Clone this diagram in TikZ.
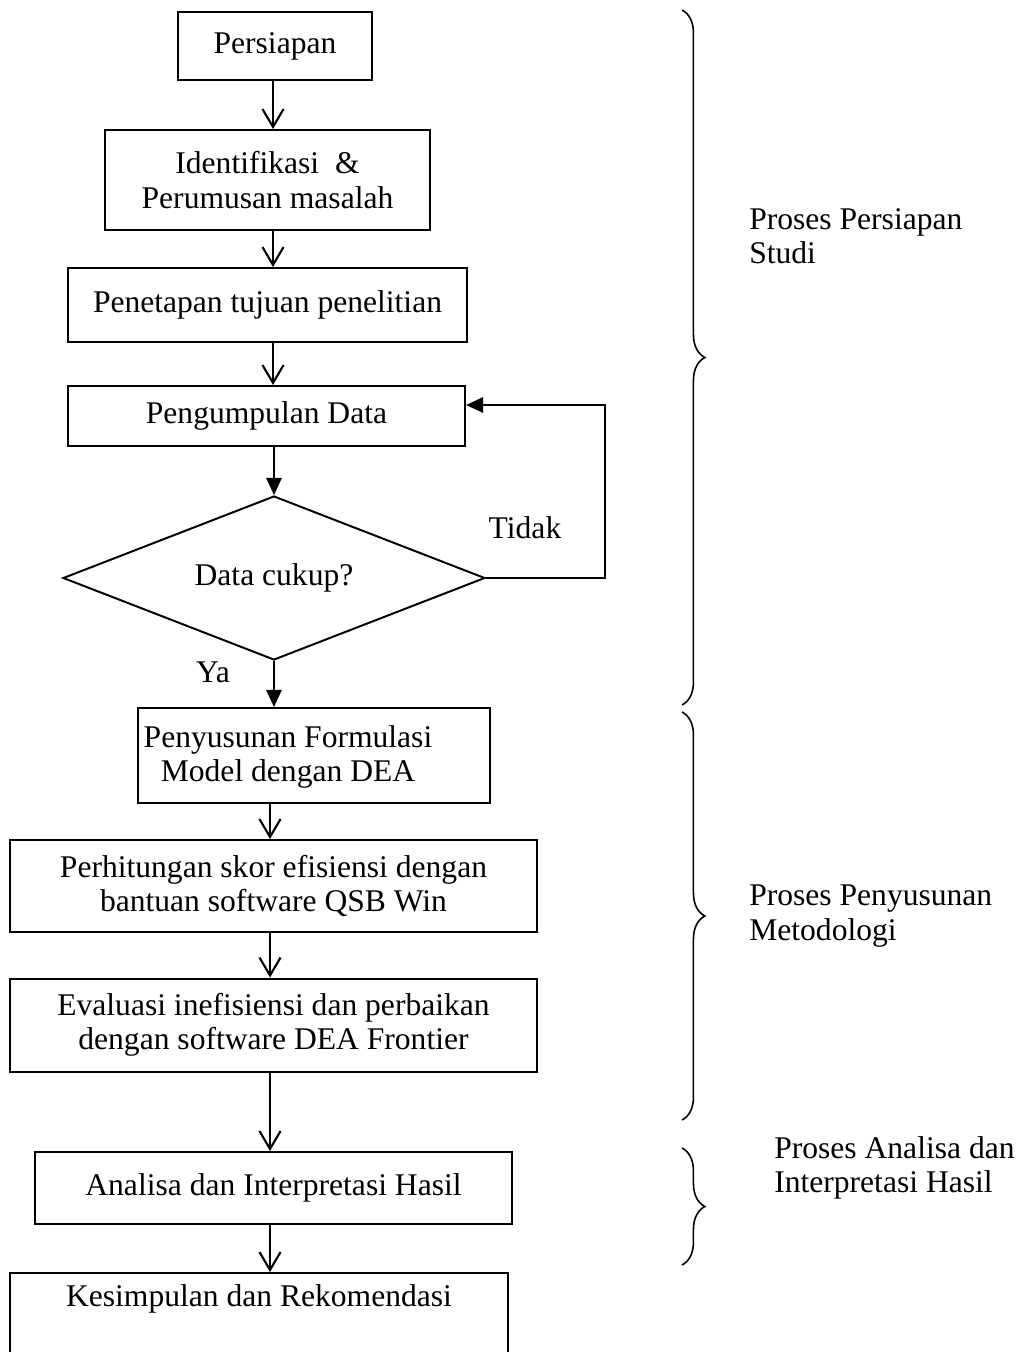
\documentclass[tikz,border=0pt]{standalone}
\usepackage{fontspec}
\setmainfont{Liberation Serif}
\usetikzlibrary{arrows.meta,shapes.geometric,decorations.pathreplacing}

\begin{document}
\begin{tikzpicture}[x=0.38pt,y=-0.38pt,font=\fontsize{12}{13}\selectfont,
  box/.style 2 args={draw, line width=0.75pt, inner sep=0pt, align=center,
    minimum width=#1*0.38pt, minimum height=#2*0.38pt},
  flow/.style={line width=0.8pt, -{Straight Barb[length=6.8pt,width=8pt]}},
  yesno/.style={line width=0.8pt, -{Triangle[length=6.5pt,width=5.8pt]}},
  bracket/.style={line width=0.6pt, decorate, decoration={brace, amplitude=8.7pt}}]
\useasboundingbox (0,0) rectangle (1023,1352);
\clip (0,0) rectangle (1023,1352);

% Persiapan studi
\node[box={194}{68}] (persiapan) at (275,46) {Persiapan};
\node[box={325}{100}] (identifikasi) at (267.5,180) {Identifikasi \ \&\\Perumusan masalah};
\node[box={399}{74}] (penetapan) at (267.5,305) {Penetapan tujuan penelitian};
\node[box={397}{60}] (pengumpulan) at (266.5,416) {Pengumpulan Data};
\node[draw, diamond, shape aspect=2.57, line width=0.75pt, inner sep=0pt,
  minimum width=422*0.38pt, minimum height=164*0.38pt] (cukup) at (274,578) {Data cukup?};
\node (tidak) at (525,528) {Tidak};
\node (ya) at (213,672) {Ya};

% Metodologi
\node[box={352}{95}] (penyusunan) at (314,755.5) {};
\node[align=center] (formulasi) at (288,757) {Penyusunan Formulasi\\Model dengan DEA};
\node[box={527}{92}] (perhitungan) at (273.5,886) {Perhitungan skor efisiensi dengan\\bantuan software QSB Win};
\node[box={527}{93}] (evaluasi) at (273.5,1025) {Evaluasi inefisiensi dan perbaikan\\dengan software DEA Frontier};

% Analisa
\node[box={477}{72}] (analisa) at (273.5,1188) {Analisa dan Interpretasi Hasil};
\node[box={498}{107}] (kesimpulan) at (259,1326.5) {};
\node (rekomendasi) at (259,1299) {Kesimpulan dan Rekomendasi};

% panah
\coordinate (atas) at (273,0);
\coordinate (bawah) at (270,0);
\coordinate (balik) at (605,405);
\draw[flow] (atas |- persiapan.south) -- (atas |- identifikasi.north);
\draw[flow] (atas |- identifikasi.south) -- (atas |- penetapan.north);
\draw[flow] (atas |- penetapan.south) -- (atas |- pengumpulan.north);
\draw[yesno] (cukup.north |- pengumpulan.south) -- (cukup.north);
\draw[yesno] (cukup.south) -- (cukup.south |- penyusunan.north);
\draw[yesno] (cukup.east) -| (balik) -- (balik -| pengumpulan.east);
\draw[flow] (bawah |- penyusunan.south) -- (bawah |- perhitungan.north);
\draw[flow] (bawah |- perhitungan.south) -- (bawah |- evaluasi.north);
\draw[flow] (bawah |- evaluasi.south) -- (bawah |- analisa.north);
\draw[flow] (bawah |- analisa.south) -- (bawah |- kesimpulan.north);

% kurung
\draw[bracket] (682,10) -- (682,705);
\draw[bracket] (682,712) -- (682,1120);
\draw[bracket] (682,1148) -- (682,1265);
\node[align=left, anchor=west] (studi) at (740,236.5) {Proses Persiapan\\Studi};
\node[align=left, anchor=west] (metodologi) at (740,916) {Proses Penyusunan\\Metodologi};
\node[align=left, anchor=west] (hasil) at (765,1168) {Proses Analisa dan\\Interpretasi Hasil};
\end{tikzpicture}
\end{document}
